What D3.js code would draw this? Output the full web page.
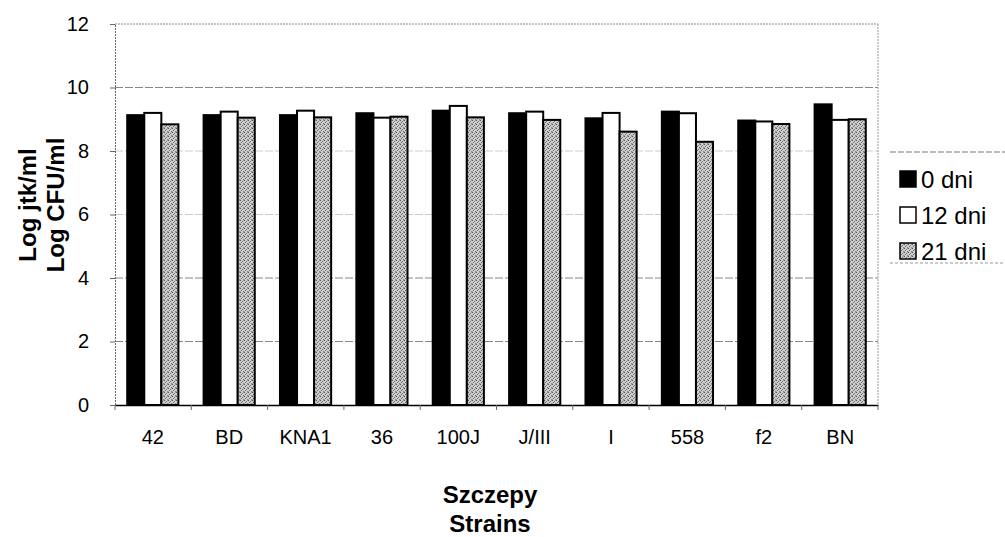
<!DOCTYPE html>
<html><head><meta charset="utf-8">
<script src="https://cdn.jsdelivr.net/npm/d3@7"></script>
<style>body{margin:0;background:#fff}svg{display:block}text{font-family:"Liberation Sans",Arial,sans-serif}</style>
</head><body>
<script>
const categories = ["42","BD","KNA1","36","100J","J/III","I","558","f2","BN"];
const seriesNames = ["0 dni","12 dni","21 dni"];
const day0  = [9.13,9.13,9.13,9.19,9.27,9.19,9.03,9.24,8.96,9.47];
const day12 = [9.20,9.24,9.27,9.05,9.42,9.24,9.20,9.19,8.93,8.98];
const day21 = [8.84,9.05,9.06,9.08,9.06,8.98,8.61,8.29,8.85,9.00];
const yTicks = [0,2,4,6,8,10,12];

const W=1005,H=537;
const m={l:115,r:127,t:24,b:132};
const svg=d3.select("body").append("svg").attr("width",W).attr("height",H);
const defs=svg.append("defs");
const pat=defs.append("pattern").attr("id","stip").attr("patternUnits","userSpaceOnUse").attr("width",4).attr("height",4);
pat.append("rect").attr("width",4).attr("height",4).attr("fill","#cfcfcf");
[[0,0,"#555"],[2,1,"#777"],[1,2,"#666"],[3,3,"#888"],[3,0,"#999"],[0,3,"#aaa"]].forEach(([a,b,c])=>
  pat.append("rect").attr("x",a).attr("y",b).attr("width",1).attr("height",1).attr("fill",c));

const x=d3.scaleBand().domain(categories).range([m.l,W-m.r]).paddingInner(0.33).paddingOuter(0.16);
const xs=d3.scaleBand().domain(seriesNames).range([0,x.bandwidth()]);
const y=d3.scaleLinear().domain([0,12]).range([H-m.b,m.t]);

const fills=["#000","#fff","url(#stip)"];
const data=[day0,day12,day21];

// gridlines
svg.append("g").selectAll("line").data(yTicks.filter(d=>d>0)).join("line")
  .attr("x1",m.l).attr("x2",W-m.r).attr("y1",d=>y(d)).attr("y2",d=>y(d))
  .attr("stroke",d=>(d===6||d===8)?"#ccc":"#888").attr("stroke-width",1).attr("stroke-dasharray",d=>d===12?"2,1":"8,2");
// plot border right
svg.append("line").attr("x1",W-m.r).attr("x2",W-m.r).attr("y1",m.t).attr("y2",H-m.b).attr("stroke","#999").attr("stroke-dasharray","2,1");

// bars
categories.forEach((c,i)=>{
  seriesNames.forEach((s,j)=>{
    const v=data[j][i];
    svg.append("rect").attr("x",x(c)+xs(s)).attr("y",y(v)).attr("width",xs.bandwidth()).attr("height",y(0)-y(v))
      .attr("fill",fills[j]).attr("stroke","#000").attr("stroke-width",2);
  });
});

// y axis
const ya=svg.append("g").attr("transform",`translate(${m.l},0)`).call(d3.axisLeft(y).tickValues(yTicks).tickSize(5).tickPadding(21));
ya.select(".domain").attr("stroke","#666").attr("stroke-dasharray","2,1");
ya.selectAll("text").attr("font-size",20).attr("fill","#000");
ya.selectAll(".tick line").attr("stroke","#666");
// x axis
const xa=svg.append("g").attr("transform",`translate(0,${y(0)})`).call(d3.axisBottom(x).tickSize(0).tickPadding(25));
xa.select(".domain").attr("stroke","#000").attr("stroke-width",1.5);
xa.selectAll("text").attr("font-size",20).attr("fill","#000");
// x axis tick marks between groups
svg.append("g").selectAll("line").data(d3.range(categories.length+1)).join("line")
  .attr("x1",d=>m.l+d*(W-m.l-m.r)/categories.length).attr("x2",d=>m.l+d*(W-m.l-m.r)/categories.length)
  .attr("y1",y(0)).attr("y2",y(0)+5).attr("stroke","#666");

// axis titles
svg.append("text").attr("x",490).attr("y",503).attr("text-anchor","middle").attr("font-size",24).attr("font-weight","bold").text("Szczepy");
svg.append("text").attr("x",490).attr("y",532).attr("text-anchor","middle").attr("font-size",24).attr("font-weight","bold").text("Strains");
const yt=svg.append("text").attr("transform","translate(0,205) rotate(-90)").attr("text-anchor","middle").attr("font-size",24).attr("font-weight","bold");
yt.append("tspan").attr("x",0).attr("y",36).text("Log jtk/ml");
yt.append("tspan").attr("x",0).attr("y",64).text("Log CFU/ml");

// legend
const lg=svg.append("g");
lg.append("line").attr("x1",890).attr("x2",1005).attr("y1",152).attr("y2",152).attr("stroke","#777").attr("stroke-dasharray","6,2");
lg.append("line").attr("x1",890).attr("x2",1005).attr("y1",263).attr("y2",263).attr("stroke","#999").attr("stroke-dasharray","3,2");
seriesNames.forEach((s,j)=>{
  const by=188+j*36;
  lg.append("rect").attr("x",900).attr("y",by-17).attr("width",16).attr("height",16).attr("fill",fills[j]).attr("stroke","#000").attr("stroke-width",1.5);
  lg.append("text").attr("x",921).attr("y",by).attr("font-size",24).text(s);
});
</script>
</body></html>
